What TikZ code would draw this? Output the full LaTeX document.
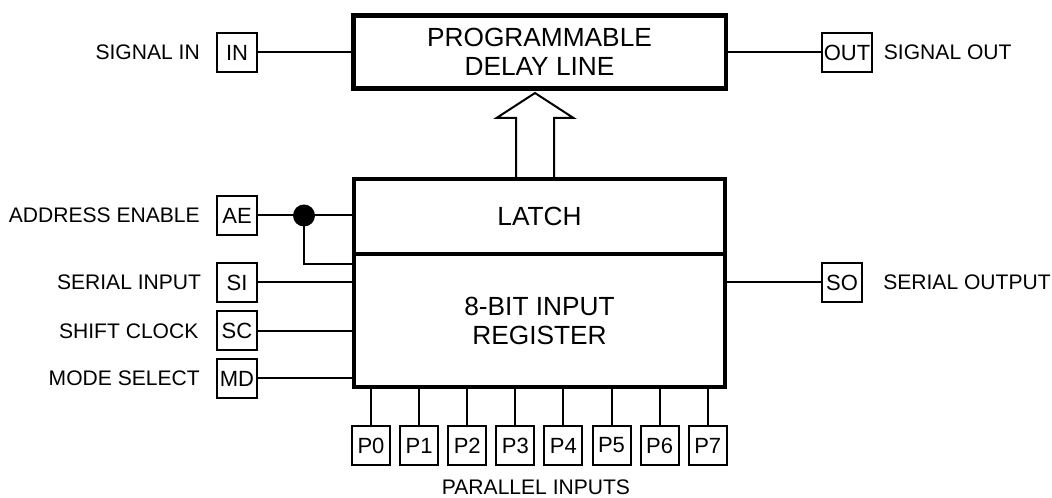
\documentclass[tikz,border=0pt]{standalone}
\usepackage{fontspec}
\setmainfont{Liberation Sans}
\usetikzlibrary{positioning}

\tikzset{
	pinbox/.style={draw,line width=1.5pt,minimum width=30pt,minimum height=29.25pt,inner sep=1pt,font=\fontsize{16.5}{18}\selectfont},
	lbl/.style={inner sep=0pt,font=\fontsize{15.8}{18}\selectfont},
	block/.style={draw,line width=3.4pt,outer sep=0pt,inner sep=0pt,align=center,font=\fontsize{19.7}{21.75}\selectfont},
	wire/.style={line width=1.5pt}
}

\begin{document}
\begin{tikzpicture}[x=0.75pt,y=-0.75pt]
	\useasboundingbox (0,0) rectangle (1052,498);
	\def\pitch{48.1} %distance between parallel inputs

	%BLOCKS
	\node[block,minimum width=279.4pt,minimum height=55pt] (delay) at (539.5,52) {PROGRAMMABLE\\DELAY LINE};
	\node[block,minimum width=278pt,minimum height=56pt] (latch) at (539.5,216.5) {LATCH};
	\node[block,minimum width=278pt,minimum height=100pt,below=0pt of latch] (reg) {8-BIT INPUT\\REGISTER};

	%PINS
	\node[pinbox] (IN) at (237,52.5) {IN};
	\node[pinbox,minimum width=37.5pt,inner sep=0pt] (OUT) at (847,52.5) {OUT};
	\node[pinbox] (AE) at (237,215.5) {AE};
	\node[pinbox] (SI) at (237,282.5) {SI};
	\node[pinbox] (SC) at (237,331) {SC};
	\node[pinbox] (MD) at (237,378.5) {MD};
	\node[pinbox] (SO) at (842,282.5) {SO};
	\foreach \i in {0,...,7}
		\node[pinbox,minimum width=28.5pt] (P\i) at ({371+\pitch*\i},445.5) {P\i};

	%LABELS
	\node[lbl,left=12pt of IN] (lin) {SIGNAL IN};
	\node[lbl,right=8pt of OUT] (lout) {SIGNAL OUT};
	\node[lbl,left=12pt of AE] (lae) {ADDRESS ENABLE};
	\node[lbl,left=11pt of SI] (lsi) {SERIAL INPUT};
	\node[lbl,left=13pt of SC] (lsc) {SHIFT CLOCK};
	\node[lbl,left=12pt of MD] (lmd) {MODE SELECT};
	\node[lbl,right=15pt of SO] (lso) {SERIAL OUTPUT};
	\node[lbl] (lpar) at (536,487) {PARALLEL INPUTS};

	%WIRES
	\draw[wire] (IN.east) -- (IN -| delay.west);
	\draw[wire] (OUT.west) -- (OUT -| delay.east);
	\coordinate (dot) at (304,215.5);
	\coordinate (aein) at (352,264);
	\draw[wire] (AE.east) -- (AE -| latch.west);
	\draw[wire] (dot) |- (aein);
	\fill (dot) circle[radius=8.25pt];
	\draw[wire] (SI.east) -- (SI -| reg.west);
	\draw[wire] (SC.east) -- (SC -| reg.west);
	\draw[wire] (MD.east) -- (MD -| reg.west);
	\draw[wire] (SO.west) -- (SO -| reg.east);
	\foreach \i in {0,...,7}
		\draw[wire] (P\i.north) -- (P\i |- reg.south);

	%BIG ARROW
	\coordinate (tip) at (535,93);
	\coordinate (foot) at (535,177);
	\draw[wire,line join=miter] (foot) ++(-19,0) -- ++(0,-59) -- ++(-19.5,0) -- (tip) -- ++(38.5,25) -- ++(-19.5,0) -- ++(0,59);
\end{tikzpicture}
\end{document}
